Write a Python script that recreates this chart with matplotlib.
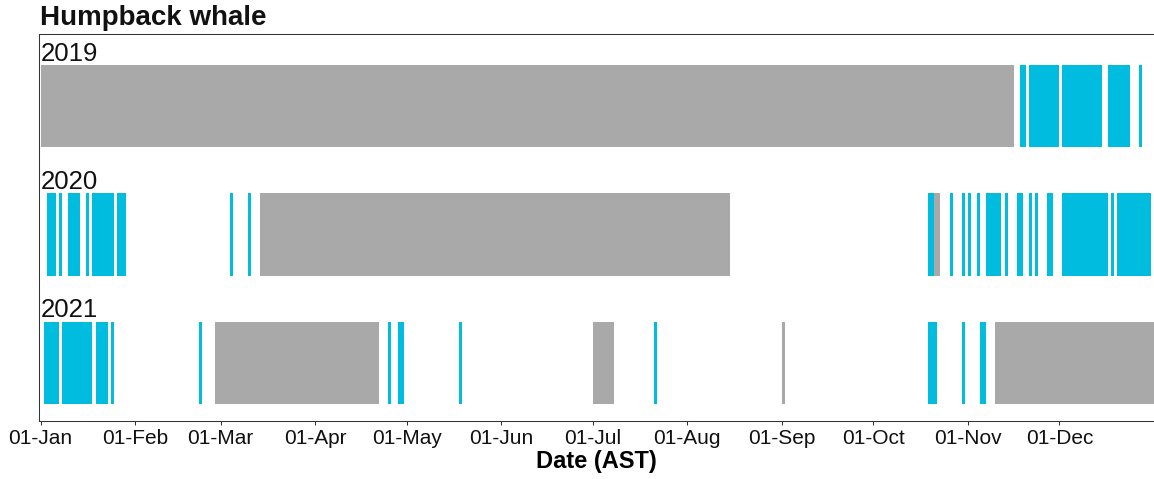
import matplotlib
matplotlib.use('Agg')
import matplotlib.pyplot as plt
import matplotlib.dates as mdates
import pandas as pd

plt.rcParams['font.family'] = ['Liberation Sans', 'DejaVu Sans']

REF_YEAR = 2021  # every year is drawn on one common Jan-Dec axis

years = [2019, 2020, 2021]

# detected days (cyan) and no-recording days (grey), inclusive date runs
detect_2019 = [("2019-11-18", "2019-11-19"), ("2019-11-21", "2019-11-30"),
               ("2019-12-02", "2019-12-14"), ("2019-12-17", "2019-12-23"),
               ("2019-12-27", "2019-12-27")]
nodata_2019 = [("2019-01-01", "2019-11-15")]

detect_2020 = [("2020-01-03", "2020-01-05"), ("2020-01-07", "2020-01-07"),
               ("2020-01-10", "2020-01-13"), ("2020-01-16", "2020-01-16"),
               ("2020-01-18", "2020-01-24"), ("2020-01-26", "2020-01-28"),
               ("2020-03-04", "2020-03-04"), ("2020-03-10", "2020-03-10"),
               ("2020-10-19", "2020-10-20"), ("2020-10-26", "2020-10-26"),
               ("2020-10-30", "2020-10-30"), ("2020-11-01", "2020-11-01"),
               ("2020-11-04", "2020-11-04"), ("2020-11-07", "2020-11-11"),
               ("2020-11-13", "2020-11-13"), ("2020-11-17", "2020-11-18"),
               ("2020-11-21", "2020-11-21"), ("2020-11-23", "2020-11-23"),
               ("2020-11-27", "2020-11-28"), ("2020-12-02", "2020-12-16"),
               ("2020-12-18", "2020-12-18"), ("2020-12-20", "2020-12-30")]
nodata_2020 = [("2020-03-14", "2020-08-14"), ("2020-10-21", "2020-10-22")]

detect_2021 = [("2021-01-02", "2021-01-06"), ("2021-01-08", "2021-01-17"),
               ("2021-01-19", "2021-01-22"), ("2021-01-24", "2021-01-24"),
               ("2021-02-22", "2021-02-22"), ("2021-04-25", "2021-04-25"),
               ("2021-04-28", "2021-04-29"), ("2021-05-18", "2021-05-18"),
               ("2021-07-21", "2021-07-21"), ("2021-10-19", "2021-10-21"),
               ("2021-10-30", "2021-10-30"), ("2021-11-05", "2021-11-06")]
nodata_2021 = [("2021-02-27", "2021-04-21"), ("2021-07-01", "2021-07-07"),
               ("2021-09-01", "2021-09-01"), ("2021-11-10", "2021-12-31")]

detections = {2019: detect_2019, 2020: detect_2020, 2021: detect_2021}
no_data = {2019: nodata_2019, 2020: nodata_2020, 2021: nodata_2021}

DETECT_COLOR = '#00BCDE'
NODATA_COLOR = '#A9A9A9'


def to_spans(runs):
    spans = []
    for start, end in runs:
        s = pd.Timestamp(start).replace(year=REF_YEAR)
        e = pd.Timestamp(end).replace(year=REF_YEAR)
        spans.append((mdates.date2num(s), (e - s).days + 1))
    return spans


fig = plt.figure(figsize=(11.54, 4.79), dpi=100)
ax = fig.add_axes([0.034, 0.121, 0.966, 0.809])

bar_h = 0.64
for i, year in enumerate(years):
    y = len(years) - 1 - i
    ax.broken_barh(to_spans(no_data[year]), (y - bar_h / 2, bar_h),
                   facecolors=NODATA_COLOR, edgecolor='none')
    ax.broken_barh(to_spans(detections[year]), (y - bar_h / 2, bar_h),
                   facecolors=DETECT_COLOR, edgecolor='none')

x0 = mdates.date2num(pd.Timestamp(f"{REF_YEAR}-01-01"))
x1 = mdates.date2num(pd.Timestamp(f"{REF_YEAR + 1}-01-01"))
ax.set_xlim(x0 - 0.46, x1)
ax.set_ylim(-0.454, 2.566)

for i, year in enumerate(years):
    y = len(years) - 1 - i
    ax.text(x0 - 0.1, y + 0.41, str(year), fontsize=18.5, va='center', ha='left',
            color='#111111')

months = [mdates.date2num(pd.Timestamp(f"{REF_YEAR}-{m:02d}-01")) for m in range(1, 13)]
ax.set_xticks(months)
ax.xaxis.set_major_formatter(mdates.DateFormatter('%d-%b'))
ax.set_yticks([])
ax.tick_params(axis='x', direction='out', length=3, width=0.75, color='#333333',
               labelsize=15, labelcolor='#111111', pad=3)
ax.set_xlabel('Date (AST)', fontsize=17, fontweight='bold', labelpad=1)

for side in ['top', 'left', 'bottom']:
    ax.spines[side].set_color('#333333')
    ax.spines[side].set_linewidth(0.75)
ax.spines['right'].set_visible(False)

fig.text(0.035, 0.962, 'Humpback whale', fontsize=20, fontweight='bold',
         va='center', ha='left', color='#111111')

fig.savefig('out.png', dpi=100)
